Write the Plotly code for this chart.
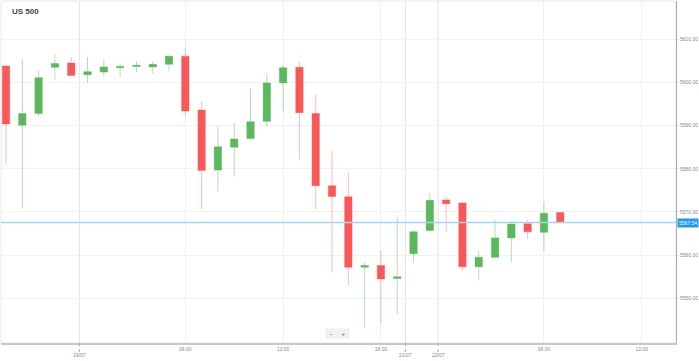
import plotly.graph_objects as go

# ---- data (hourly candles, index based x) ----
candle_idx = list(range(35))
opens = [5603.8, 5590.1, 5592.8, 5603.5, 5604.5, 5601.8, 5602.4, 5603.4, 5603.7, 5603.6,
         5604.2, 5606.1, 5593.6, 5579.7, 5585.0, 5587.0, 5591.0, 5599.9, 5603.5, 5592.8,
         5576.1, 5573.5, 5557.2, 5557.6, 5554.6, 5560.3, 5565.7, 5572.8, 5572.1, 5557.3,
         5559.5, 5564.0, 5567.3, 5565.3, 5569.9]
highs = [5604.0, 5605.4, 5602.7, 5606.5, 5605.9, 5605.9, 5605.5, 5604.4, 5604.9, 5604.8,
         5606.1, 5608.1, 5595.7, 5589.9, 5590.7, 5598.6, 5602.1, 5604.0, 5604.8, 5597.2,
         5584.1, 5579.1, 5558.4, 5561.0, 5568.8, 5565.9, 5574.4, 5573.6, 5572.2, 5560.9,
         5568.2, 5567.8, 5568.2, 5572.4, 5570.0]
lows = [5580.9, 5570.9, 5592.2, 5600.7, 5601.5, 5599.9, 5601.5, 5601.1, 5602.4, 5602.1,
        5602.6, 5592.2, 5570.7, 5574.7, 5578.2, 5586.9, 5589.9, 5593.4, 5582.3, 5570.7,
        5556.0, 5553.0, 5543.3, 5544.3, 5546.4, 5558.3, 5565.6, 5565.3, 5556.5, 5554.2,
        5559.4, 5558.3, 5563.8, 5561.0, 5567.5]
closes = [5590.4, 5592.8, 5601.1, 5604.4, 5601.6, 5602.5, 5603.6, 5603.7, 5604.0, 5604.2,
          5606.1, 5593.4, 5579.6, 5585.1, 5586.9, 5590.9, 5599.9, 5603.4, 5593.0, 5576.1,
          5573.6, 5557.2, 5557.6, 5554.5, 5555.0, 5565.4, 5572.7, 5571.9, 5557.3, 5559.5,
          5564.0, 5567.2, 5565.4, 5569.7, 5567.54]
current_price = 5567.54

hour_tick_pos = [11, 17, 23, 33, 39]
hour_tick_text = ["06:00", "12:00", "18:00", "06:00", "12:00"]
date_tick_pos = [4.5, 24.5, 26.5]
date_tick_text = ["19/07", "21/07", "22/07"]
price_ticks = [5550, 5560, 5570, 5580, 5590, 5600, 5610]

x_range = [-0.307, 41.10]
y_range = [5539.65, 5618.87]

fig = go.Figure()
fig.add_trace(go.Candlestick(
    x=candle_idx, open=opens, high=highs, low=lows, close=closes,
    increasing=dict(line=dict(color="rgba(92,184,92,0.45)", width=1), fillcolor="#5cb85c"),
    decreasing=dict(line=dict(color="rgba(250,88,88,0.40)", width=1), fillcolor="#fa5858"),
    whiskerwidth=0, showlegend=False,
))

shapes = []
# plot border
shapes.append(dict(type="rect", xref="paper", yref="paper", x0=0, x1=1, y0=0, y1=1,
                   line=dict(color="#e8e8e8", width=1), layer="below"))
# day separator lines
for p in date_tick_pos:
    shapes.append(dict(type="line", xref="x", yref="paper", x0=p, x1=p, y0=0, y1=1,
                       line=dict(color="#e2e2e2", width=1), layer="below"))
    shapes.append(dict(type="line", xref="x", yref="paper", x0=p, x1=p, y0=0, y1=-0.026,
                       line=dict(color="#aaaaaa", width=1, dash="dot")))
# current price line
shapes.append(dict(type="line", xref="paper", yref="y", x0=0, x1=1, y0=current_price, y1=current_price,
                   line=dict(color="#a5d4f3", width=1.5)))

annotations = []
for p, t in zip(date_tick_pos, date_tick_text):
    annotations.append(dict(x=p, xref="x", y=-0.035, yref="paper", text=t, showarrow=False,
                            font=dict(size=5, color="#888888"), xanchor="center", yanchor="middle"))
annotations.append(dict(x=1, xref="paper", y=current_price, yref="y", text="%.2f" % current_price,
                        showarrow=False, xanchor="left", yanchor="middle", xshift=1,
                        bgcolor="#2196f3", font=dict(size=5, color="white"), borderpad=1))
annotations.append(dict(x=0.0133, xref="paper", y=0.968, yref="paper", text="<b>US 500</b>",
                        showarrow=False, xanchor="left", yanchor="middle",
                        font=dict(size=8, color="#444444", family="Liberation Sans, Arial")))
annotations.append(dict(x=0.4889, xref="paper", y=0.0278, yref="paper", text="\u2212",
                        showarrow=False, bgcolor="#f0f0f0", font=dict(size=6, color="#666666"),
                        width=9, height=7, xanchor="center", yanchor="middle"))
annotations.append(dict(x=0.5067, xref="paper", y=0.0278, yref="paper", text="+",
                        showarrow=False, bgcolor="#f0f0f0", font=dict(size=6, color="#666666"),
                        width=9, height=7, xanchor="center", yanchor="middle"))

fig.update_layout(
    width=699, height=361,
    margin=dict(l=1, r=23, t=1, b=18),
    paper_bgcolor="white", plot_bgcolor="white",
    font=dict(family="Liberation Sans, Arial", size=5, color="#888888"),
    showlegend=False,
    boxgap=0.35,
    shapes=shapes,
    annotations=annotations,
    xaxis=dict(range=x_range, rangeslider=dict(visible=False), tickvals=hour_tick_pos,
               ticktext=hour_tick_text, showgrid=True, gridcolor="#f0f0f0", zeroline=False,
               showline=True, linecolor="#c8c8c8", linewidth=2, ticks="", fixedrange=True),
    yaxis=dict(range=y_range, side="right", tickvals=price_ticks, tickformat=".2f",
               showgrid=True, gridcolor="#f2f2f2", zeroline=False, showline=True,
               linecolor="#aaaaaa", linewidth=1, ticks="outside", ticklen=2, tickcolor="#dddddd"),
)

fig.write_html("out.html", config={"displayModeBar": False},
               post_script="document.body.style.margin='0px';document.body.style.overflow='hidden';")
